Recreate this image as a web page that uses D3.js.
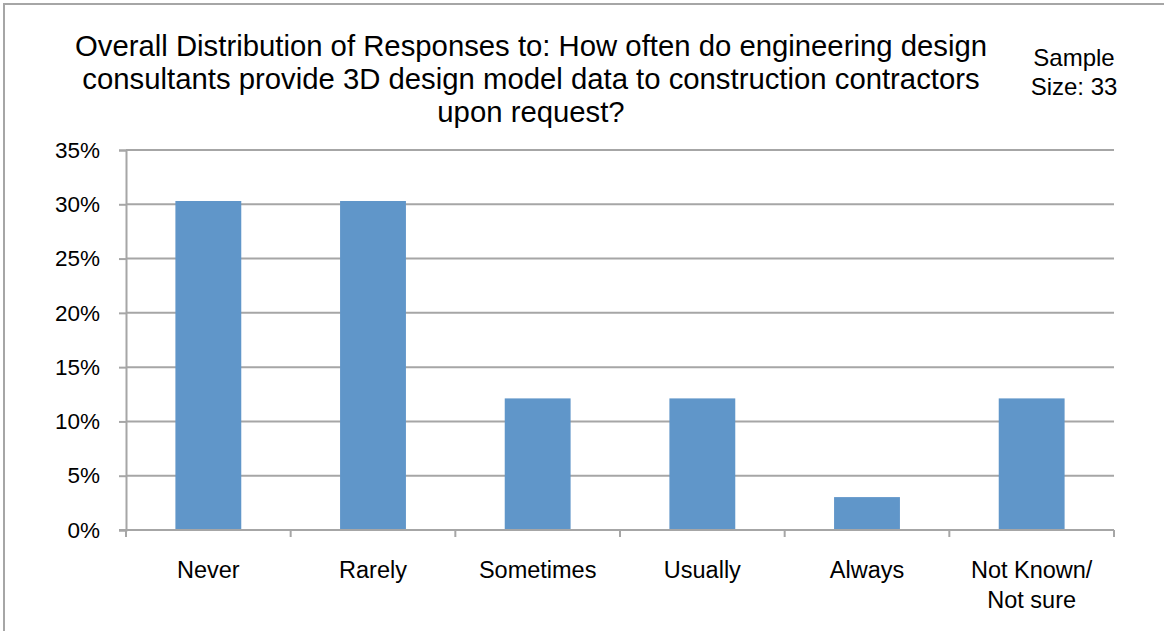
<!DOCTYPE html>
<html>
<head>
<meta charset="utf-8">
<script src="https://cdn.jsdelivr.net/npm/d3@7"></script>
<style>
  html, body { margin: 0; padding: 0; background: #fff; }
  svg { display: block; font-family: "Liberation Sans", Arial, sans-serif; }
</style>
</head>
<body>
<svg id="chart" width="1164" height="631"></svg>
<script>
// Response categories and their share of the 33 answers
const categories = ["Never", "Rarely", "Sometimes", "Usually", "Always", "Not Known/\nNot sure"];
const counts = [10, 10, 4, 4, 1, 4];
const sampleSize = 33;
const shares = counts.map(c => c / sampleSize);
const yTicks = [0, 0.05, 0.10, 0.15, 0.20, 0.25, 0.30, 0.35];
const titleLines = [
  "Overall Distribution of Responses to: How often do engineering design",
  "consultants provide 3D design model data to construction contractors",
  "upon request?"
];
const noteLines = ["Sample", "Size: " + sampleSize];

const svg = d3.select("#chart");
const W = 1164, H = 631;
const plot = { left: 126, right: 1114, top: 150, bottom: 530 };

// outer frame
svg.append("rect")
  .attr("x", 4).attr("y", 4)
  .attr("width", W + 10).attr("height", H + 10)
  .attr("fill", "#fff").attr("stroke", "#a6a6a6").attr("stroke-width", 2);

const x = d3.scaleBand().domain(categories).range([plot.left, plot.right]).paddingInner(0.6).paddingOuter(0.3);
const y = d3.scaleLinear().domain([0, 0.35]).range([plot.bottom, plot.top]);

// horizontal gridlines
svg.append("g").selectAll("line").data(yTicks.slice(1)).join("line")
  .attr("x1", plot.left).attr("x2", plot.right)
  .attr("y1", d => y(d)).attr("y2", d => y(d))
  .attr("stroke", "#a6a6a6").attr("stroke-width", 2);

// bars
svg.append("g").selectAll("rect").data(categories).join("rect")
  .attr("x", d => x(d))
  .attr("width", x.bandwidth())
  .attr("y", (d, i) => y(shares[i]))
  .attr("height", (d, i) => y(0) - y(shares[i]))
  .attr("fill", "#6096c9");

// y axis
const yAxis = svg.append("g")
  .attr("transform", `translate(${plot.left},0)`)
  .call(d3.axisLeft(y).tickValues(yTicks).tickFormat(d3.format(".0%")).tickSize(7).tickPadding(19));
yAxis.select(".domain").attr("stroke", "#a6a6a6").attr("stroke-width", 2);
yAxis.selectAll(".tick line").attr("stroke", "#a6a6a6").attr("stroke-width", 2);
yAxis.selectAll(".tick text")
  .attr("font-size", 22.5).attr("fill", "#000")
  .attr("font-family", "Liberation Sans, Arial, sans-serif");

// x axis with ticks between categories
const xBound = d3.scaleLinear().domain([0, categories.length]).range([plot.left, plot.right]);
const xAxis = svg.append("g");
xAxis.append("line")
  .attr("x1", plot.left - 7).attr("x2", plot.right)
  .attr("y1", y(0)).attr("y2", y(0))
  .attr("stroke", "#a6a6a6").attr("stroke-width", 2);
xAxis.selectAll("line.tk").data(d3.range(categories.length + 1)).join("line")
  .attr("class", "tk")
  .attr("x1", d => xBound(d)).attr("x2", d => xBound(d))
  .attr("y1", y(0)).attr("y2", y(0) + 7)
  .attr("stroke", "#a6a6a6").attr("stroke-width", 2);

// category labels
const lab = svg.append("g").selectAll("text").data(categories).join("text")
  .attr("x", d => x(d) + x.bandwidth() / 2)
  .attr("y", 578)
  .attr("text-anchor", "middle")
  .attr("font-size", 23.5).attr("fill", "#000");
lab.each(function(d) {
  const parts = d.split("\n");
  d3.select(this).selectAll("tspan").data(parts).join("tspan")
    .attr("x", x(d) + x.bandwidth() / 2)
    .attr("dy", (p, i) => i === 0 ? 0 : 30)
    .text(p => p);
});

// title
svg.append("g").selectAll("text").data(titleLines).join("text")
  .attr("x", 531).attr("y", (d, i) => 56 + i * 33)
  .attr("text-anchor", "middle")
  .attr("font-size", 29.3).attr("fill", "#000")
  .text(d => d);

// sample size note
svg.append("g").selectAll("text").data(noteLines).join("text")
  .attr("x", 1074).attr("y", (d, i) => 66 + i * 29)
  .attr("text-anchor", "middle")
  .attr("font-size", 24).attr("fill", "#000")
  .text(d => d);
</script>
</body>
</html>
